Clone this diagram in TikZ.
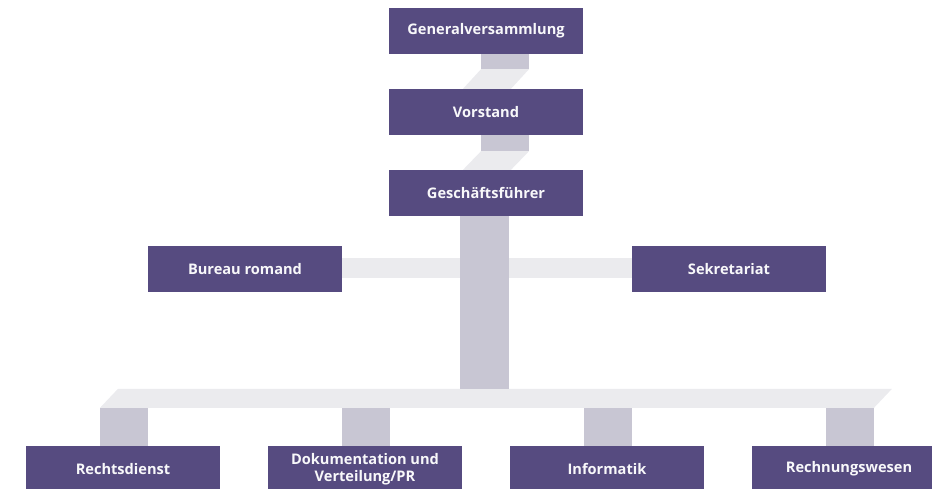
\documentclass[tikz,border=0pt]{standalone}
\usepackage{fontspec}
\setmainfont{Open Sans}
\usetikzlibrary{calc,backgrounds}
\definecolor{boxc}{RGB}{86,75,128}
\definecolor{darkc}{RGB}{200,198,211}
\definecolor{lightc}{RGB}{235,235,238}
\begin{document}
\begin{tikzpicture}[x=1pt,y=-1pt,
  unit/.style={fill=boxc, text=white!96!boxc, minimum width=194pt, minimum height=46pt,
    inner sep=0pt, font=\fontsize{14.6}{17}\selectfont\bfseries, align=center},
  darkband/.style={fill=darkc},
  lightband/.style={fill=lightc}]
\useasboundingbox (0,0) rectangle (932,488);
\clip (0,0) rectangle (932,488);
% boxes
\node[unit] (gv) at (486,31) {Generalversammlung};
\node[unit] (vs) at (486,112) {Vorstand};
\node[unit] (gf) at (486,193) {Geschäftsführer};
\node[unit] (br) at (245,269) {Bureau romand};
\node[unit] (sk) at (729,269) {Sekretariat};
\node[unit] (rd) at (123,469) {Rechtsdienst};
\node[unit] (dok) at (365,469) {Dokumentation und\\Verteilung/PR};
\node[unit] (inf) at (607,469) {Informatik};
\node[unit] (rw) at (849,469) {Rechnungswesen};
\begin{pgfonlayer}{background}
  % light bands
  \fill[lightband] ($(gv.south)+(-5,15)$) -- ($(gv.south)+(43,15)$)
     -- ($(vs.north)+(25,0)$) -- ($(vs.north)+(-23,0)$) -- cycle;
  \fill[lightband] ($(vs.south)+(-5,16)$) -- ($(vs.south)+(43,16)$)
     -- ($(gf.north)+(25,0)$) -- ($(gf.north)+(-23,0)$) -- cycle;
  \fill[lightband] ($(br.east)+(0,-11)$) rectangle ($(sk.west)+(0,9)$);
  \coordinate (bartop) at ($(rd.north)+(0,-57)$);
  \fill[lightband] ($(rd.north)+(-23,-38)$) -- ($(rd.north)+(-5,-57)$)
     -- ($(rw.north)+(43,-57)$) -- ($(rw.north)+(25,-38)$) -- cycle;
  % dark bands
  \fill[darkband] ($(gv.south)+(-5,0)$) rectangle ($(gv.south)+(43,15)$);
  \fill[darkband] ($(vs.south)+(-5,0)$) rectangle ($(vs.south)+(43,16)$);
  \coordinate (cbr) at ($(gf.south)+(23,0)$);
  \fill[darkband] ($(gf.south)+(-26,0)$) rectangle (cbr |- bartop);
  \foreach \n in {rd,dok,inf,rw}
    \fill[darkband] ($(\n.north)+(-23,0)$) rectangle ($(\n.north)+(25,-38)$);
\end{pgfonlayer}
\end{tikzpicture}
\end{document}
